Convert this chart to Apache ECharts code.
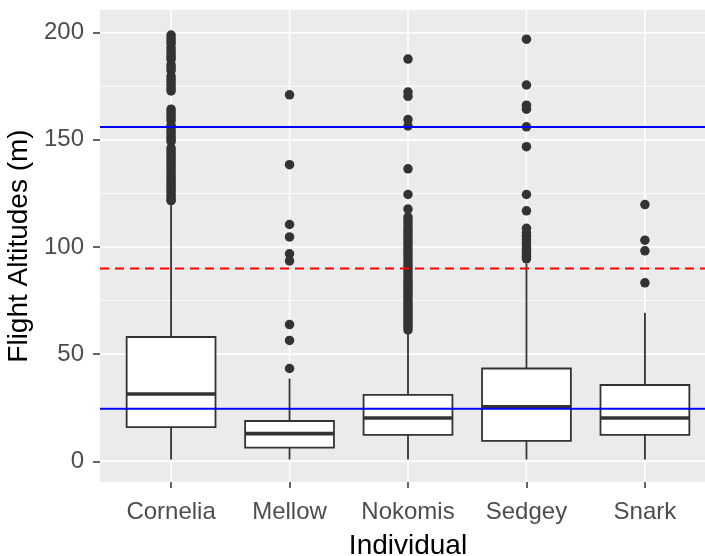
<!DOCTYPE html>
<html>
<head>
<meta charset="utf-8">
<script src="https://cdn.jsdelivr.net/npm/echarts@6/dist/echarts.min.js"></script>
<style>html,body{margin:0;padding:0;background:#fff}#chart{width:705px;height:556px}</style>
</head>
<body>
<div id="chart"></div>
<script>
const categories = ['Cornelia', 'Mellow', 'Nokomis', 'Sedgey', 'Snark'];
const whiskerLow = [0.8, 0.8, 0.8, 0.8, 0.8];
const q1 = [15.9, 6.4, 12.3, 9.5, 12.3];
const median = [31.4, 12.9, 20.2, 25.4, 20.2];
const q3 = [58.0, 18.8, 31.0, 43.3, 35.6];
const whiskerHigh = [119.5, 38.6, 59.8, 92.3, 69.3];

const outCornelia = [198.9, 197.5, 196.2, 195.0, 193.0, 191.5, 190.0, 188.6, 187.5, 185.0, 183.8, 182.4,
  179.8, 178.3, 177.0, 175.5, 174.0, 172.8, 164.3, 163.0, 161.5, 160.2, 159.0, 156.8, 155.5, 154.0,
  152.8, 151.5, 150.3, 149.2, 146.2, 145.0, 143.6, 142.4, 141.0, 139.8, 138.5, 137.2, 136.0, 134.6,
  133.3, 132.0, 130.6, 129.5, 128.3, 127.0, 125.8, 124.5, 123.3, 122.0, 121.6];
const outMellow = [171.0, 138.4, 110.5, 104.7, 96.8, 93.5, 63.8, 56.4, 43.3];
const outNokomis = [187.7, 172.3, 170.3, 159.5, 156.5, 136.5, 124.5, 117.7, 114.0, 112.3, 110.8, 109.2,
  107.8, 106.3, 104.9, 103.4, 102.0, 100.5, 99.0, 97.5, 96.0, 94.5, 93.0, 91.5, 90.0, 88.5, 87.0, 85.5,
  84.2, 83.0, 81.6, 80.3, 79.0, 77.8, 76.4, 75.0, 73.8, 72.5, 71.2, 70.0, 68.8, 67.5, 66.2, 65.0, 63.7,
  62.5, 61.3];
const outSedgey = [197.0, 175.6, 166.2, 164.3, 156.1, 146.8, 124.5, 116.9, 108.7, 106.5, 105.0, 103.5,
  102.0, 100.5, 99.3, 98.0, 96.8, 95.5, 94.5];
const outSnark = [119.8, 103.2, 98.2, 83.3];
const outliers = [outCornelia, outMellow, outNokomis, outSedgey, outSnark];

const yTicks = [0, 50, 100, 150, 200];
const yMinor = [25, 75, 125, 175];
const blueLines = [24.5, 156];
const redLines = [90];

const boxData = categories.map((c, i) => [i, whiskerLow[i], q1[i], median[i], q3[i], whiskerHigh[i]]);
const pointData = [];
outliers.forEach((arr, i) => arr.forEach(v => pointData.push([i, v])));
const catIdx = categories.map((c, i) => i);

// horizontal lines: [x, y, kind]  kind: 0 major, 1 minor, 2 blue, 3 red dashed
const hGrid = yTicks.map(v => [0, v, 0]).concat(yMinor.map(v => [0, v, 1]));
const hRef = blueLines.map(v => [0, v, 2]).concat(redLines.map(v => [0, v, 3]));
const vGrid = catIdx.map(i => [i, 0]);

const lineStyles = [
  { stroke: '#ffffff', lineWidth: 1.6 },
  { stroke: '#ffffff', lineWidth: 0.8 },
  { stroke: '#0000FF', lineWidth: 2 },
  { stroke: '#FF0000', lineWidth: 2, lineDash: [9, 6] }
];

function renderHLine(params, api) {
  const cs = params.coordSys;
  const y = api.coord([api.value(0), api.value(1)])[1];
  return {
    type: 'line',
    shape: { x1: cs.x, y1: y, x2: cs.x + cs.width, y2: y },
    style: Object.assign({}, lineStyles[api.value(2)])
  };
}
function renderVLine(params, api) {
  const cs = params.coordSys;
  const x = api.coord([api.value(0), api.value(1)])[0];
  return {
    type: 'line',
    shape: { x1: x, y1: cs.y, x2: x, y2: cs.y + cs.height },
    style: Object.assign({}, lineStyles[0])
  };
}

const FONT = 'Liberation Sans';
const chart = echarts.init(document.getElementById('chart'), null, { renderer: 'canvas' });
chart.setOption({
  animation: false,
  backgroundColor: '#ffffff',
  grid: { left: 100, top: 10, width: 616, bottom: 74, show: true, backgroundColor: '#EBEBEB', borderWidth: 0,
          containLabel: false, outerBoundsMode: 'none' },
  xAxis: {
    type: 'value', min: -0.6, max: 4.6, position: 'bottom',
    name: 'Individual', nameLocation: 'middle', nameGap: 50,
    nameTextStyle: { fontFamily: FONT, fontSize: 28, color: '#000000' },
    axisLine: { show: false, onZero: false },
    splitLine: { show: false },
    axisTick: { show: true, customValues: catIdx, length: 6, lineStyle: { color: '#333333', width: 1.5 } },
    axisLabel: { customValues: catIdx, formatter: v => categories[Math.round(v)], fontFamily: FONT, fontSize: 24, color: '#4D4D4D', margin: 18 }
  },
  yAxis: {
    type: 'value', min: -9.67, max: 210.6, position: 'left',
    name: 'Flight Altitudes (m)', nameLocation: 'middle', nameGap: 52,
    nameTextStyle: { fontFamily: FONT, fontSize: 28, color: '#000000' },
    axisLine: { show: false, onZero: false },
    splitLine: { show: false },
    axisTick: { show: true, customValues: yTicks, length: 7, lineStyle: { color: '#333333', width: 1.5 } },
    axisLabel: { customValues: yTicks, fontFamily: FONT, fontSize: 24, color: '#4D4D4D', margin: 16 }
  },
  series: [
    { type: 'custom', z: 1, silent: true, data: hGrid, encode: { x: 0, y: 1 }, renderItem: renderHLine },
    { type: 'custom', z: 1, silent: true, data: vGrid, encode: { x: 0, y: 1 }, renderItem: renderVLine },
    {
      type: 'custom', z: 3, data: boxData, encode: { x: 0, y: [1, 2, 3, 4, 5] },
      renderItem: function (params, api) {
        const x = api.value(0);
        const pMin = api.coord([x, api.value(1)]);
        const pQ1 = api.coord([x, api.value(2)]);
        const pMed = api.coord([x, api.value(3)]);
        const pQ3 = api.coord([x, api.value(4)]);
        const pMax = api.coord([x, api.value(5)]);
        const w = api.size([0.75, 0])[0];
        const cx = pMed[0];
        const stroke = '#333333';
        return {
          type: 'group',
          children: [
            { type: 'line', shape: { x1: cx, y1: pMin[1], x2: cx, y2: pQ1[1] }, style: { stroke: stroke, lineWidth: 1.8 } },
            { type: 'line', shape: { x1: cx, y1: pQ3[1], x2: cx, y2: pMax[1] }, style: { stroke: stroke, lineWidth: 1.8 } },
            { type: 'rect', shape: { x: cx - w / 2, y: pQ3[1], width: w, height: pQ1[1] - pQ3[1] }, style: { fill: '#ffffff', stroke: stroke, lineWidth: 1.8 } },
            { type: 'line', shape: { x1: cx - w / 2, y1: pMed[1], x2: cx + w / 2, y2: pMed[1] }, style: { stroke: stroke, lineWidth: 3.6 } }
          ]
        };
      }
    },
    {
      type: 'scatter', z: 4, data: pointData, symbol: 'circle', symbolSize: 9.5,
      itemStyle: { color: '#333333', opacity: 1 }
    },
    { type: 'custom', z: 10, silent: true, data: hRef, encode: { x: 0, y: 1 }, renderItem: renderHLine }
  ]
});
</script>
</body>
</html>
